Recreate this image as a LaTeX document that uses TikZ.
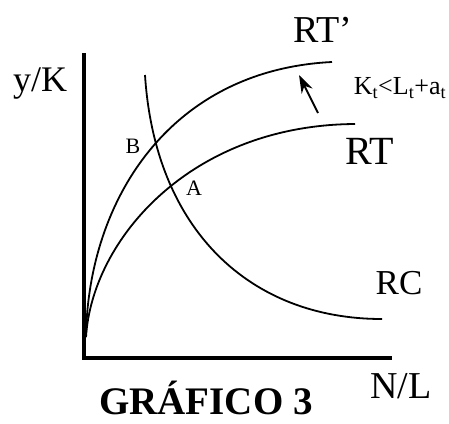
\documentclass[tikz,border=0pt]{standalone}
\usepackage{fontspec}
\setmainfont{Liberation Serif}
\usetikzlibrary{arrows.meta}
\tikzset{
  axis/.style={line width=4.5pt},
  curve/.style={line width=1.8pt},
  lbl/.style={inner sep=0pt},
}
\begin{document}
\begin{tikzpicture}[x=1pt, y=-1pt]
    \useasboundingbox (0,0) rectangle (449,423);
    % Axes
    \coordinate (top) at (84,53);
    \coordinate (O) at (84,358);
    \coordinate (right) at (392,358);
    \draw[axis] (top) -- (O) -- (right);
    % Curves
    \coordinate (s) at (86,337);
    \draw[curve] (s) .. controls (88,200) and (170,70) .. (332,62) coordinate (rtp);
    \draw[curve] (s) .. controls (92,240) and (190,125) .. (355,124) coordinate (rt);
    \draw[curve] (145,75) .. controls (155,230) and (250,319) .. (382,319) coordinate (rc);
    % Shift arrow
    \coordinate (a0) at (318,113);
    \coordinate (a1) at (299,75);
    \draw[line width=2pt, -{Stealth[length=18pt, width=12pt]}] (a0) -- (a1);
    % Labels
    \node[lbl, font=\fontsize{36}{36}\selectfont] (ylab) at (40,84) {y/K};
    \node[lbl, font=\fontsize{38}{38}\selectfont] (xlab) at (401,386) {N/L};
    \node[lbl, font=\fontsize{38}{38}\selectfont] (rtplab) at (323,30) {RT’};
    \node[lbl, font=\fontsize{40}{40}\selectfont] (rtlab) at (370,151) {RT};
    \node[lbl, font=\fontsize{35}{35}\selectfont] (rclab) at (399,283) {RC};
    \node[lbl, font=\fontsize{26}{26}\selectfont] (cond) at (400,88) {K\textsubscript{t}<L\textsubscript{t}+a\textsubscript{t}};
    \node[lbl, font=\fontsize{22}{22}\selectfont] (B) at (133,146) {B};
    \node[lbl, font=\fontsize{22}{22}\selectfont] (A) at (194,188) {A};
    \node[lbl, anchor=base, font=\bfseries\fontsize{39}{39}\selectfont] (title) at (206,414) {GRÁFICO 3};
\end{tikzpicture}
\end{document}
